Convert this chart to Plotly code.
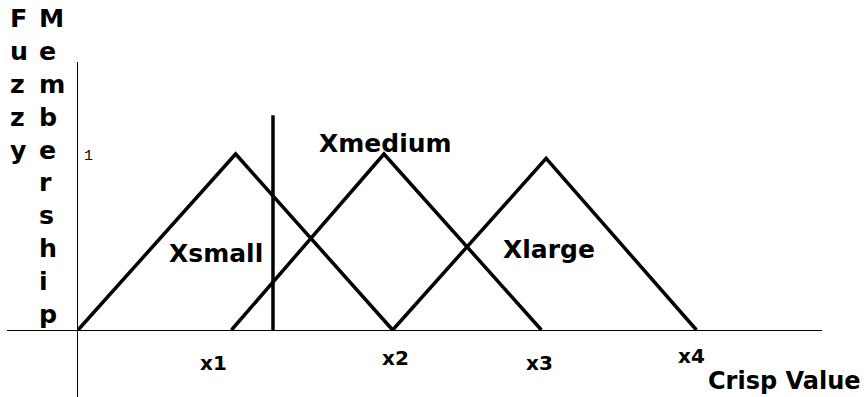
import plotly.graph_objects as go

# membership functions (crisp units on x, degree on y)
small_x = [0, 1.017, 2.03]
small_y = [0, 1.0, 0]
medium_x = [0.99, 1.974, 2.99]
medium_y = [0, 1.0, 0]
large_x = [2.03, 3.02, 3.99]
large_y = [0, 0.975, 0]

# crisp input line
crisp_x = [1.258, 1.258]
crisp_y = [0, 1.22]

set_names = ["Xsmall", "Xmedium", "Xlarge"]
tick_vals = [1, 2, 3, 4]
tick_text = ["x1", "x2", "x3", "x4"]

# pixel -> data: x = (px-78)/155, y = (330-py)/176
XR = [-78 / 155, 790 / 155]
YR = [-67 / 176, 330 / 176]

BOLD = dict(family="DejaVu Sans", color="black", weight="bold")

fig = go.Figure()
for xs, ys in [(small_x, small_y), (medium_x, medium_y), (large_x, large_y)]:
    fig.add_trace(go.Scatter(x=xs, y=ys, mode="lines", line=dict(color="black", width=3.5)))
fig.add_trace(go.Scatter(x=crisp_x, y=crisp_y, mode="lines", line=dict(color="black", width=3.5)))

# axes drawn through the origin (half-pixel nudge keeps them crisp)
fig.add_shape(type="line", x0=-71 / 155, x1=744 / 155, y0=-0.5 / 176, y1=-0.5 / 176,
              line=dict(color="black", width=1))
fig.add_shape(type="line", x0=-0.003, x1=-0.003, y0=YR[0], y1=268 / 176, line=dict(color="black", width=1))

# set labels
label_pos = [(0.89, 0.432), (1.984, 1.06), (3.04, 0.455)]
for name, (lx, ly) in zip(set_names, label_pos):
    fig.add_annotation(x=lx, y=ly, text=name, showarrow=False, font=dict(size=25, **BOLD))

# tick labels, each sits at its own offset below the axis
tick_shift = [(-20, -33), (7, -28), (-4, -33), (-7, -26)]
for v, t, (dx, dy) in zip(tick_vals, tick_text, tick_shift):
    fig.add_annotation(x=v, y=0, text=t, showarrow=False, xshift=dx, yshift=dy,
                       font=dict(size=20, **BOLD))

fig.add_annotation(x=4.05, y=-0.29, text="Crisp Value", showarrow=False, xanchor="left",
                   font=dict(size=24, **BOLD))
fig.add_annotation(x=0.07, y=0.985, text="1", showarrow=False,
                   font=dict(size=15, family="Liberation Mono", color="black"))

# axis titles written letter by letter
fig.add_annotation(x=8 / 868, y=1 - 2 / 397, xref="paper", yref="paper", text="<br>".join("Fuzzy"),
                   showarrow=False, xanchor="left", yanchor="top", align="left",
                   font=dict(size=25.3, **BOLD))
fig.add_annotation(x=37 / 868, y=1 - 2 / 397, xref="paper", yref="paper", text="<br>".join("Membership"),
                   showarrow=False, xanchor="left", yanchor="top", align="left",
                   font=dict(size=25.3, **BOLD))

fig.update_layout(width=868, height=397, margin=dict(l=0, r=0, t=0, b=0),
                  paper_bgcolor="white", plot_bgcolor="white", showlegend=False)
fig.update_xaxes(range=XR, visible=False)
fig.update_yaxes(range=YR, visible=False)

fig.write_html("out.html", config={"displayModeBar": False},
               post_script="document.body.style.margin='0';")
